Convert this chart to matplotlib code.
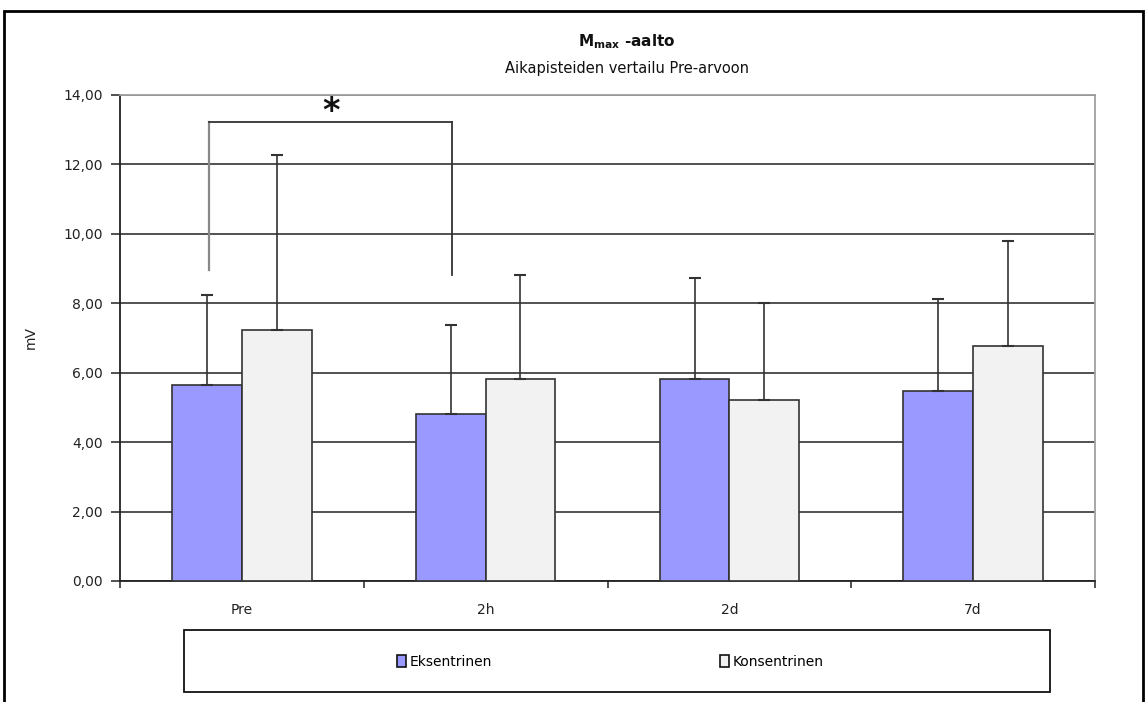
import matplotlib
matplotlib.use("Agg")
import matplotlib.pyplot as plt
import numpy as np
from matplotlib.patches import Rectangle, Patch

categories = ["Pre", "2h", "2d", "7d"]
eks_values = [5.64, 4.80, 5.81, 5.47]
eks_sd = [2.61, 2.57, 2.91, 2.64]
kon_values = [7.22, 5.82, 5.20, 6.78]
kon_sd = [5.04, 3.00, 2.82, 3.01]
series_names = ["Eksentrinen", "Konsentrinen"]
yticks = [0, 2, 4, 6, 8, 10, 12, 14]
ytick_labels = ["0,00", "2,00", "4,00", "6,00", "8,00", "10,00", "12,00", "14,00"]

W, H = 1147, 702
fig = plt.figure(figsize=(W / 100, H / 100), dpi=100)
plt.rcParams['font.family'] = ['DejaVu Sans']

def fx(px):
    return px / W

def fy(py):
    return 1 - py / H

ax = fig.add_axes([fx(120), fy(581), fx(1095) - fx(120), fy(94.9) - fy(581)])

x = np.arange(len(categories))
w = 0.2857
edge = "#333333"
ax.bar(x - w / 2, eks_values, w, color="#9999FF", edgecolor=edge, linewidth=1.2, zorder=3)
ax.bar(x + w / 2, kon_values, w, color="#F2F2F2", edgecolor=edge, linewidth=1.2, zorder=3)
ax.errorbar(x - w / 2, eks_values, yerr=[np.zeros(4), eks_sd], fmt="none", ecolor=edge,
            elinewidth=1.2, capsize=4, capthick=1.5, zorder=4)
ax.errorbar(x + w / 2, kon_values, yerr=[np.zeros(4), kon_sd], fmt="none", ecolor=edge,
            elinewidth=1.2, capsize=4, capthick=1.5, zorder=4)

ax.set_xlim(-0.5, len(categories) - 0.5)
ax.set_ylim(0, 14)
ax.set_yticks(yticks)
ax.set_yticklabels(ytick_labels, fontsize=10, color="#222222")
ax.yaxis.grid(True, color="#222222", linewidth=1.1, zorder=0)
ax.set_axisbelow(True)
ax.tick_params(axis="y", length=6.5, width=1.1, color="#222222", pad=6)

ax.set_xticks(x)
ax.set_xticklabels(categories, fontsize=10, color="#222222")
ax.tick_params(axis="x", which="major", length=0, pad=16)
ax.set_xticks(np.arange(-0.5, len(categories) + 0.5, 1), minor=True)
ax.tick_params(axis="x", which="minor", length=5, width=1.1, color="#222222")

for s in ["top", "right"]:
    ax.spines[s].set_color("#a0a0a0")
    ax.spines[s].set_linewidth(1.3)
for s in ["left", "bottom"]:
    ax.spines[s].set_color("#222222")
    ax.spines[s].set_linewidth(1.3)

ax.set_ylabel("mV", fontsize=10, color="#222222")
ax.yaxis.set_label_coords((38 - 120) / 975, 0.5)

# significance bracket between Pre and 2h (Eksentrinen)
xl, xr = x[0] - w / 2 + 0.01, x[1] - w / 2 + 0.005
ytop = 13.23
ax.plot([xl, xl], [8.95, ytop], color="#888888", linewidth=1.6, zorder=5, clip_on=False)
ax.plot([xl, xr], [ytop, ytop], color="#333333", linewidth=1.3, zorder=5, clip_on=False)
ax.plot([xr, xr], [ytop, 8.82], color="#333333", linewidth=1.3, zorder=5, clip_on=False)
ax.text((xl + xr) / 2, 13.25, "*", fontsize=24, fontweight="bold", ha="center",
        va="baseline", color="#111111", zorder=6, clip_on=False)

# titles
fig.text(fx(627), fy(42), r"M$_{\mathregular{max}}$ -aalto", fontsize=11, fontweight="bold",
         ha="center", va="center", color="#111111")
fig.text(fx(627), fy(69), "Aikapisteiden vertailu Pre-arvoon", fontsize=10.5,
         ha="center", va="center", color="#111111")

# legend box
fig.patches.append(Rectangle((fx(184), fy(692)), fx(1050) - fx(184), fy(630) - fy(692),
                             transform=fig.transFigure, fill=False, edgecolor="#111111",
                             linewidth=1.3))
handles = [Patch(facecolor="#9999FF", edgecolor="#111111", linewidth=1.2),
           Patch(facecolor="#F2F2F2", edgecolor="#111111", linewidth=1.2)]
fig.legend(handles, series_names, loc="center", bbox_to_anchor=(fx(610.5), fy(662)),
           ncol=2, frameon=False, fontsize=10, handlelength=0.65, handleheight=1.0,
           handletextpad=0.25, columnspacing=16.45)

# outer frame
fig.patches.append(Rectangle((fx(4), -0.05), fx(1143) - fx(4), fy(10.5) + 0.05,
                             transform=fig.transFigure, fill=False, edgecolor="#000000",
                             linewidth=2))

fig.savefig("out.png", dpi=100)
